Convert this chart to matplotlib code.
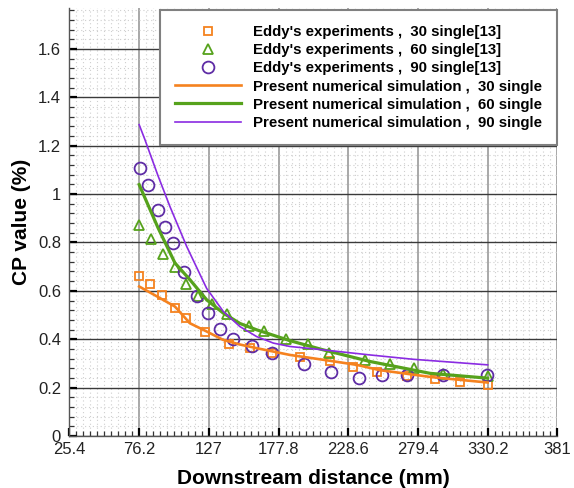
import numpy as np
import matplotlib
matplotlib.use("Agg")
import matplotlib.pyplot as plt
from matplotlib.ticker import FixedLocator, MultipleLocator, FuncFormatter

plt.rcParams['font.family'] = ['Liberation Sans', 'DejaVu Sans']

# experimental points (Eddy [13])
exp30_x = [76.2, 83.8, 93.0, 102.3, 110.3, 124.5, 141.5, 156.8, 172.8, 193.4,
           215.3, 231.8, 249.7, 271.2, 291.8, 310.0, 330.2]
exp30_y = [0.663, 0.629, 0.581, 0.528, 0.487, 0.428, 0.379, 0.365, 0.342, 0.326,
           0.308, 0.284, 0.266, 0.248, 0.235, 0.224, 0.211]

exp60_x = [76.2, 85.0, 93.3, 102.5, 110.3, 118.8, 129.5, 140.2, 156.5, 167.5,
           183.5, 199.0, 214.8, 240.8, 259.0, 276.7, 297.8, 330.6]
exp60_y = [0.873, 0.814, 0.752, 0.697, 0.629, 0.580, 0.545, 0.505, 0.455, 0.432,
           0.399, 0.382, 0.344, 0.316, 0.297, 0.283, 0.257, 0.248]

exp90_x = [77.0, 82.8, 90.1, 95.0, 100.6, 108.9, 118.1, 126.3, 134.8, 144.8,
           158.3, 172.8, 196.2, 216.2, 236.6, 253.0, 271.2, 297.4, 329.5]
exp90_y = [1.108, 1.039, 0.933, 0.864, 0.797, 0.676, 0.580, 0.508, 0.444, 0.399,
           0.370, 0.342, 0.296, 0.265, 0.241, 0.252, 0.252, 0.252, 0.252]

# numerical simulation curves
sim30_x = [76.2, 91.4, 102.3, 113.2, 125.4, 137.5, 149.7, 161.8, 186.1, 210.4,
           234.7, 251.7, 290.0, 330.2]
sim30_y = [0.618, 0.570, 0.535, 0.466, 0.432, 0.397, 0.378, 0.363, 0.335, 0.315,
           0.294, 0.272, 0.243, 0.221]

sim60_x = [76.2, 90.0, 102.3, 113.2, 125.4, 137.5, 149.7, 161.8, 186.1, 210.4,
           244.4, 288.2, 330.2]
sim60_y = [1.039, 0.860, 0.715, 0.646, 0.563, 0.508, 0.465, 0.439, 0.394, 0.356,
           0.308, 0.259, 0.239]

sim90_x = [76.2, 80.4, 90.0, 98.6, 110.8, 125.4, 137.5, 149.7, 161.8, 174.0,
           186.1, 210.4, 244.4, 276.0, 330.2]
sim90_y = [1.287, 1.225, 1.075, 0.949, 0.784, 0.610, 0.515, 0.452, 0.411, 0.384,
           0.370, 0.356, 0.335, 0.317, 0.294]

x_ticks = [25.4, 76.2, 127, 177.8, 228.6, 279.4, 330.2, 381]
y_ticks = [0, 0.2, 0.4, 0.6, 0.8, 1, 1.2, 1.4, 1.6]

c_orange = '#F5821F'
c_green = '#56A21C'
c_purple_pt = '#5E2CA5'
c_purple_ln = '#8A2BE2'

fig = plt.figure(figsize=(5.74, 4.88), dpi=100)
ax = fig.add_axes([0.121, 0.1066, 0.850, 0.8774])

# grid
ax.xaxis.set_major_locator(FixedLocator(x_ticks))
ax.xaxis.set_minor_locator(MultipleLocator(5.08))
ax.yaxis.set_major_locator(FixedLocator(y_ticks))
ax.yaxis.set_minor_locator(MultipleLocator(0.04))
ax.grid(which='minor', color='#cfcfcf', linestyle=(0, (1, 2.5)), linewidth=0.8)
ax.xaxis.grid(which='major', color='#999999', linewidth=1.2)
ax.yaxis.grid(which='major', color='#3a3a3a', linewidth=1.0)
ax.set_axisbelow(True)

# experiments
ax.plot(exp30_x, exp30_y, linestyle='none', marker='s', markersize=6.4,
        markerfacecolor='none', markeredgecolor=c_orange, markeredgewidth=1.3,
        label="Eddy's experiments ,  30 single[13]")
ax.plot(exp60_x, exp60_y, linestyle='none', marker='^', markersize=7.8,
        markerfacecolor='none', markeredgecolor=c_green, markeredgewidth=1.3,
        label="Eddy's experiments ,  60 single[13]")
ax.plot(exp90_x, exp90_y, linestyle='none', marker='o', markersize=8.5,
        markerfacecolor='none', markeredgecolor=c_purple_pt, markeredgewidth=1.3,
        label="Eddy's experiments ,  90 single[13]")

# simulations
ax.plot(sim30_x, sim30_y, color=c_orange, linewidth=1.9,
        label='Present numerical simulation ,  30 single')
ax.plot(sim60_x, sim60_y, color=c_green, linewidth=2.3,
        label='Present numerical simulation ,  60 single')
ax.plot(sim90_x, sim90_y, color=c_purple_ln, linewidth=1.2,
        label='Present numerical simulation ,  90 single')

ax.set_xlim(25.4, 381)
ax.set_ylim(0, 1.77)

fmt = FuncFormatter(lambda v, p: f'{v:g}')
ax.xaxis.set_major_formatter(fmt)
ax.yaxis.set_major_formatter(fmt)

ax.tick_params(which='major', direction='in', length=6, width=1.6,
               color='black', labelsize=12, labelcolor='#222222')
ax.tick_params(which='minor', direction='in', length=3.5, width=0.9, color='#333333')
ax.tick_params(axis='x', pad=4)
ax.tick_params(axis='y', pad=6)

for s in ['top', 'right']:
    ax.spines[s].set_visible(False)
for s in ['left', 'bottom']:
    ax.spines[s].set_color('#555555')
    ax.spines[s].set_linewidth(1.0)

ax.set_xlabel('Downstream distance (mm)', fontsize=15, fontweight='bold', labelpad=9)
ax.set_ylabel('CP value (%)', fontsize=15, fontweight='bold', labelpad=5)

leg = ax.legend(loc='upper right', bbox_to_anchor=(1.0, 0.995), borderaxespad=0,
                prop={'size': 10.8, 'weight': 'bold'}, handlelength=4.4,
                handletextpad=0.8, borderpad=1.0, labelspacing=0.28,
                fancybox=False, framealpha=1, numpoints=1)
leg.get_frame().set_edgecolor('#808080')
leg.get_frame().set_linewidth(1.5)

fig.savefig('out.png', dpi=100)
